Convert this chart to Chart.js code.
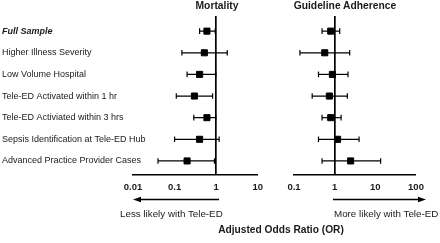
<!DOCTYPE html>
<html>
<head>
<meta charset="utf-8">
<script src="https://cdn.jsdelivr.net/npm/chart.js@4"></script>
<style>
  body { margin: 0; background: #fff; }
  #wrap { position: relative; width: 440px; height: 243px; font-family: 'Liberation Sans', Arial, sans-serif; color: #1a1a1a; }
  canvas { position: absolute; top: 0; }
  .txt { position: absolute; white-space: nowrap; line-height: 12px; }
  .b { font-weight: bold; }
</style>
</head>
<body>
<div id="wrap">
  <canvas id="mort" width="270" height="243" style="left:0"></canvas>
  <canvas id="adh" width="160" height="243" style="left:280px"></canvas>
  <div class="txt b" style="left:167px;top:0;width:100px;text-align:center;font-size:10.3px">Mortality</div>
  <div class="txt b" style="left:285px;top:0;width:120px;text-align:center;font-size:10.3px">Guideline Adherence</div>
  <div class="txt" style="left:120px;top:208px;font-size:9.8px">Less likely with Tele-ED</div>
  <div class="txt" style="left:334px;top:208px;font-size:9.8px">More likely with Tele-ED</div>
  <div class="txt b" style="left:201px;top:224px;width:160px;text-align:center;font-size:10.2px">Adjusted Odds Ratio (OR)</div>
  <svg width="440" height="243" style="position:absolute;left:0;top:0;pointer-events:none">
    <line x1="219" y1="199.5" x2="139" y2="199.5" stroke="#000" stroke-width="1.5"/>
    <polygon points="133,199.5 141,196.8 141,202.2" fill="#000"/>
    <line x1="333" y1="199.5" x2="419" y2="199.5" stroke="#000" stroke-width="1.5"/>
    <polygon points="426,199.5 418,196.8 418,202.2" fill="#000"/>
  </svg>
</div>
<script>
// Datos
const rowLabels = [
  'Full Sample',
  'Higher Illness Severity',
  'Low Volume Hospital',
  'Tele-ED Activated within 1 hr',
  'Tele-ED Activiated within 3 hrs',
  'Sepsis Identification at Tele-ED Hub',
  'Advanced Practice Provider Cases'
];

const mortOR = [0.60, 0.52, 0.40, 0.30, 0.60, 0.40, 0.20];
const mortLow = [0.40, 0.15, 0.20, 0.11, 0.29, 0.10, 0.04];
const mortHigh = [0.95, 1.85, 0.98, 0.82, 0.98, 1.18, 0.91];

const adhOR = [0.80, 0.57, 0.88, 0.74, 0.80, 1.18, 2.47];
const adhLow = [0.49, 0.14, 0.40, 0.28, 0.49, 0.40, 0.49];
const adhHigh = [1.33, 2.34, 2.13, 2.05, 1.44, 3.98, 13.5];

const mortTicks = [0.01, 0.1, 1, 10];
const adhTicks = [0.1, 1, 10, 100];

const fam = "'Liberation Sans', Arial, sans-serif";

function makeDatasets(or, low, high) {
  const sets = [{
    label: 'OR',
    data: or.map((v, i) => ({ x: v, y: i + 1 })),
    pointStyle: 'rect',
    pointRadius: 4.3,
    pointBackgroundColor: '#000',
    pointBorderColor: '#000',
    pointBorderWidth: 1
  }];
  low.forEach((lo, i) => {
    sets.push({
      label: 'CI ' + (i + 1),
      data: [{ x: lo, y: i + 1 }, { x: high[i], y: i + 1 }],
      showLine: true,
      borderColor: '#000',
      borderWidth: 1.2,
      pointStyle: 'line',
      pointRotation: 90,
      pointRadius: 2.8,
      pointBorderColor: '#000',
      pointBorderWidth: 1.2
    });
  });
  return sets;
}

function makeChart(id, or, low, high, ticks, showLabels, pad) {
  return new Chart(document.getElementById(id), {
    type: 'scatter',
    data: { datasets: makeDatasets(or, low, high) },
    options: {
      responsive: false,
      animation: false,
      layout: { padding: pad },
      plugins: { legend: { display: false }, tooltip: { enabled: false } },
      scales: {
        x: {
          type: 'logarithmic',
          min: ticks[0],
          max: ticks[ticks.length - 1],
          afterBuildTicks: s => { s.ticks = ticks.map(v => ({ value: v })); },
          afterFit: s => { s.height = 68; },
          border: { display: true, color: '#000', width: 1.6 },
          grid: {
            drawTicks: false,
            color: c => (c.tick && c.tick.value === 1) ? '#000' : 'rgba(0,0,0,0)',
            lineWidth: c => (c.tick && c.tick.value === 1) ? 1.7 : 0
          },
          ticks: {
            padding: 7,
            color: '#1a1a1a',
            font: { family: fam, size: 9.5, weight: 'bold' },
            maxRotation: 0,
            callback: v => String(v)
          }
        },
        y: {
          type: 'linear',
          reverse: true,
          min: 0.3,
          max: 7.65,
          display: showLabels,
          afterBuildTicks: s => { s.ticks = rowLabels.map((_, i) => ({ value: i + 1 })); },
          afterFit: s => { if (showLabels) s.width = 131; },
          border: { display: false },
          grid: { display: false },
          ticks: {
            // mirrored labels are not clipped to the axis box
            mirror: true,
            padding: -131,
            color: '#1a1a1a',
            font: c => c.index === 0
              ? { family: fam, size: 9, weight: 'bold', style: 'italic' }
              : { family: fam, size: 9 },
            callback: v => rowLabels[v - 1]
          }
        }
      }
    }
  });
}

makeChart('mort', mortOR, mortLow, mortHigh, mortTicks, true, { left: 2, right: 10, top: 16, bottom: 0 });
makeChart('adh', adhOR, adhLow, adhHigh, adhTicks, false, { left: 14, right: 24, top: 16, bottom: 0 });
</script>
</body>
</html>
